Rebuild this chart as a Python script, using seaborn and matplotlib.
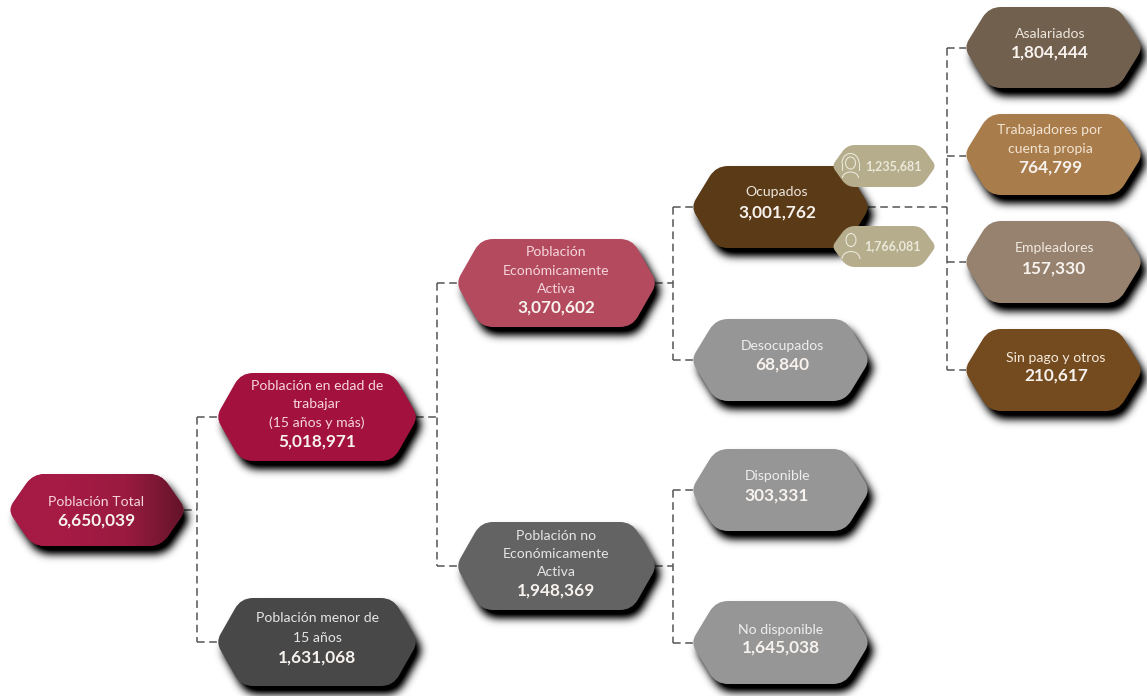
import numpy as np
import pandas as pd
import matplotlib
matplotlib.use("Agg")
import matplotlib.pyplot as plt
import seaborn as sns
from matplotlib.path import Path
from matplotlib.patches import PathPatch, Arc, Ellipse

# ---- content ----
names = ["Población Total", "Población en edad de\ntrabajar\n(15 años y más)", "Población menor de\n15 años",
         "Población\nEconómicamente\nActiva", "Población no\nEconómicamente\nActiva",
         "Ocupados", "Desocupados", "Disponible", "No disponible",
         "Asalariados", "Trabajadores por\ncuenta propia", "Empleadores", "Sin pago y otros"]
values = [6650039, 5018971, 1631068, 3070602, 1948369, 3001762, 68840, 303331, 1645038,
          1804444, 764799, 157330, 210617]
women = 1235681
men = 1766081

# ---- layout (pixels) ----
left = [10, 218, 218, 458, 458, 693, 693, 693, 693, 966, 966, 966, 966]
right = [184, 416, 416, 655, 655, 868, 868, 868, 868, 1141, 1141, 1141, 1141]
top = [474, 373, 598, 239, 522, 166, 319, 449, 601, 7, 114, 221, 329]
bottom = [546, 461, 686, 327, 610, 248, 401, 531, 684, 88, 195, 303, 411]
first_y = [501, 385, 618, 252, 535, 191, 346, 475, 629, 34, 130, 248, 357]
value_y = [520, 441, 657, 307, 590, 212, 364, 495, 647, 52, 167, 268, 375]
text_x = [96, 317, 317, 556, 556, 777, 782, 777, 781, 1050, 1050, 1054, 1056]
colors = ["#9c1a42", "#a3123f", "#484848", "#b34a5e", "#636363", "#5a3a17", "#969696",
          "#969696", "#969696", "#72604f", "#a97c4c", "#96826e", "#744a1f"]
text_colors = ["#f6d5dc", "#f6d5dc", "#e6e6e6", "#f6d5dc", "#e6e6e6", "#ece6dc", "#eeeeee",
               "#eeeeee", "#eeeeee", "#ece6dc", "#f2e4d2", "#f0e8df", "#f6ebdc"]

sns.set_theme(style="white")
plt.rcParams["font.family"] = ["Lato", "DejaVu Sans"]
fig = plt.figure(figsize=(11.47, 6.96), dpi=100)
ax = fig.add_axes([0, 0, 1, 1])
ax.set_xlim(0, 1147)
ax.set_ylim(696, 0)
ax.axis("off")


def rounded_poly(pts, radii):
    n = len(pts)
    verts, codes = [], []
    for i in range(n):
        p = np.array(pts[i], float)
        a = np.array(pts[i - 1], float)
        b = np.array(pts[(i + 1) % n], float)
        r = radii[i]
        s = p + (a - p) / np.linalg.norm(a - p) * r
        e = p + (b - p) / np.linalg.norm(b - p) * r
        verts += [tuple(s), tuple(p), tuple(e)]
        codes += [Path.MOVETO if i == 0 else Path.LINETO, Path.CURVE3, Path.CURVE3]
    verts.append(verts[0])
    codes.append(Path.CLOSEPOLY)
    return Path(verts, codes)


def hexagon(x0, x1, y0, y1, inset=23, rc=12, rt=9):
    ym = (y0 + y1) / 2
    pts = [(x0 - 2, ym), (x0 + inset, y0), (x1 - inset, y0), (x1 + 2, ym), (x1 - inset, y1), (x0 + inset, y1)]
    return rounded_poly(pts, [rt, rc, rc, rt, rc, rc])


def gaussian_blur(a, sigma):
    r = int(3 * sigma)
    k = np.exp(-0.5 * (np.arange(-r, r + 1) / sigma) ** 2)
    k /= k.sum()
    a = np.apply_along_axis(lambda v: np.convolve(v, k, mode="same"), 0, a)
    a = np.apply_along_axis(lambda v: np.convolve(v, k, mode="same"), 1, a)
    return a


def shadow_layer():
    W, H = 1147, 696
    mask = np.zeros((H, W))
    for i in range(len(names)):
        p = hexagon(left[i] + 5, right[i] + 5, top[i] + 8, bottom[i] + 8)
        x0, x1, y0, y1 = left[i], min(right[i] + 10, W), top[i] + 5, min(bottom[i] + 11, H)
        xx, yy = np.meshgrid(np.arange(x0, x1) + 0.5, np.arange(y0, y1) + 0.5)
        ins = p.contains_points(np.c_[xx.ravel(), yy.ravel()]).reshape(xx.shape)
        mask[y0:y1, x0:x1] = np.maximum(mask[y0:y1, x0:x1], ins.astype(float))
    blur = gaussian_blur(mask, 4.2)
    rgba = np.zeros((H, W, 4))
    rgba[..., 3] = np.clip(blur * 1.2, 0, 1)
    ax.imshow(rgba, extent=(0, W, H, 0), aspect="auto", zorder=2, interpolation="bilinear")


def connector(x_parent, y_parent, x_bus, x_child, y_children):
    color = "#555555"
    segs = [([x_bus, x_child], [yc, yc]) for yc in y_children]
    segs.append(([x_bus, x_bus], [min(y_children), max(y_children)]))
    segs.append(([x_parent, x_bus], [y_parent, y_parent]))
    for xs, ys in segs:
        d = pd.DataFrame({"x": xs, "y": ys})
        sns.lineplot(data=d, x="x", y="y", sort=False, estimator=None, ax=ax, color=color, lw=1.1,
                     linestyle=(0, (5, 3)), zorder=1)


def mid(i):
    return (top[i] + bottom[i]) / 2


connector(right[0], mid(0), 197, left[1], [mid(1), mid(2)])
connector(right[1], mid(1), 437, left[3], [mid(3), mid(4)])
connector(right[3], mid(3), 673, left[5], [mid(5), mid(6)])
connector(right[4], mid(4), 673, left[7], [mid(7), mid(8)])
connector(right[5], mid(5), 947, left[9], [mid(9), mid(10) + 1, mid(11), mid(12)])

shadow_layer()

for i in range(len(names)):
    path = hexagon(left[i], right[i], top[i], bottom[i])
    ax.add_patch(PathPatch(path, fc=colors[i], ec="none", zorder=3))
    if i == 0:  # left-to-right sheen on the root node
        cmap = sns.blend_palette(["#a51b45", "#a51b45", "#9a1a40", "#64142a"], as_cmap=True)
        im = ax.imshow(np.linspace(0, 1, 256)[None, :], cmap=cmap, aspect="auto", zorder=3.1,
                       extent=(left[i], right[i], bottom[i], top[i]))
        im.set_clip_path(PathPatch(path, transform=ax.transData))
    lines = names[i].split("\n")
    pitch = (value_y[i] - first_y[i]) / len(lines)
    for k, line in enumerate(lines):
        ax.text(text_x[i], first_y[i] + k * pitch + 0.5, line, ha="center", va="center", fontsize=10.1,
                color=text_colors[i], zorder=5)
    ax.text(text_x[i], value_y[i] + 0.5, f"{values[i]:,}", ha="center", va="center", fontsize=12.4,
            fontweight="bold", color="#f7f2ee", zorder=5)
ax.set_xlim(0, 1147)
ax.set_ylim(696, 0)

# ---- gender badges ----
badge_color = "#b5ad8c"
icon_color = "#ebe8da"
for y0, y1, v, tx in [(145, 187, women, 893), (226, 267, men, 892)]:
    ax.add_patch(PathPatch(hexagon(834, 934, y0, y1, inset=13, rc=8, rt=5), fc=badge_color, ec="none", zorder=6))
    ax.text(tx, (y0 + y1) / 2, f"{v:,}", ha="center", va="center", fontsize=9, fontweight="bold",
            color=icon_color, zorder=7)
# woman icon
ax.add_patch(Ellipse((850.5, 163), 10, 12, fc="none", ec=icon_color, lw=0.8, zorder=7))
ax.add_patch(Arc((850.5, 163), 17, 19, theta1=180, theta2=360, ec=icon_color, lw=0.8, zorder=7))
ax.plot([842, 842], [163, 170], color=icon_color, lw=0.8, zorder=7)
ax.plot([859, 859], [163, 170], color=icon_color, lw=0.8, zorder=7)
ax.add_patch(Arc((850.5, 178), 16, 12, theta1=180, theta2=360, ec=icon_color, lw=0.8, zorder=7))
# man icon
ax.add_patch(Ellipse((851, 240), 10, 13, fc="none", ec=icon_color, lw=0.8, zorder=7))
ax.add_patch(Arc((851, 259), 18, 15, theta1=180, theta2=360, ec=icon_color, lw=0.8, zorder=7))

fig.savefig("out.png", dpi=100, facecolor="white")
